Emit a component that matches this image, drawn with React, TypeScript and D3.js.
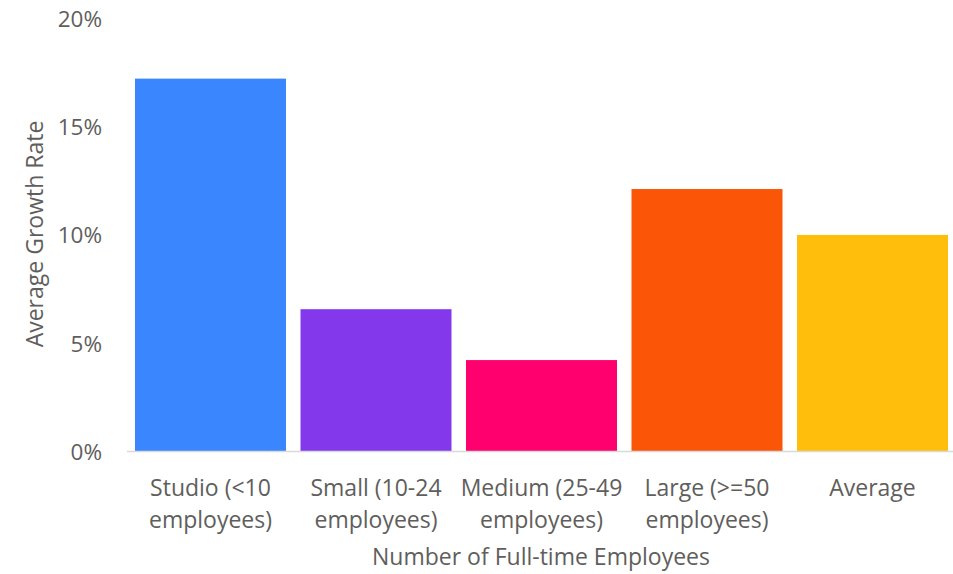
import React from "react";
import * as d3 from "d3";

const categories = [
  ["Studio (<10", "employees)"],
  ["Small (10-24", "employees)"],
  ["Medium (25-49", "employees)"],
  ["Large (>=50", "employees)"],
  ["Average"],
];
const growthRates = [0.172, 0.0655, 0.042, 0.121, 0.0998];
const barColors = ["#3A86FF", "#8338EC", "#FF006E", "#FB5607", "#FFBE0B"];
const yTicks = [0, 0.05, 0.1, 0.15, 0.2];
const xTitle = "Number of Full-time Employees";
const yTitle = "Average Growth Rate";

const W = 953;
const H = 574;
const FONT = "'Segoe UI', 'Open Sans', 'Noto Sans', sans-serif";
const TEXT = "#605E5C";

export default function App() {
  const keys = categories.map((c) => c.join(" "));
  const x = d3
    .scaleBand<string>()
    .domain(keys)
    .range([127.75, 955.25])
    .paddingInner(0.0876)
    .paddingOuter(0.0438);
  const y = d3.scaleLinear().domain([0, 0.2]).range([451, 18]);
  const fmt = d3.format(".0%");

  return (
    <svg
      width={W}
      height={H}
      style={{ position: "absolute", left: 0, top: 0, background: "#fff" }}
      fontFamily={FONT}
    >
      {yTicks.map((t) => (
        <text
          key={t}
          x={102}
          y={y(t) + 1}
          dy="0.35em"
          textAnchor="end"
          fontSize={22.5}
          fill={TEXT}
        >
          {fmt(t)}
        </text>
      ))}
      <text
        transform={`translate(35,${234}) rotate(-90)`}
        textAnchor="middle"
        dy="0.35em"
        fontSize={23}
        fill={TEXT}
      >
        {yTitle}
      </text>
      {keys.map((k, i) => (
        <rect
          key={k}
          x={x(k)}
          y={y(growthRates[i])}
          width={x.bandwidth()}
          height={y(0) - y(growthRates[i])}
          fill={barColors[i]}
        />
      ))}
      <line x1={127} x2={W} y1={y(0) + 0.5} y2={y(0) + 0.5} stroke="#d9d9d9" strokeWidth={1.5} />
      {keys.map((k, i) => (
        <text
          key={k}
          x={(x(k) as number) + x.bandwidth() / 2}
          textAnchor="middle"
          fontSize={23}
          fill={TEXT}
        >
          {categories[i].map((line, j) => (
            <tspan key={j} x={(x(k) as number) + x.bandwidth() / 2} y={488 + j * 32} dy="0.35em">
              {line}
            </tspan>
          ))}
        </text>
      ))}
      <text x={541} y={557} dy="0.35em" textAnchor="middle" fontSize={23} fill={TEXT}>
        {xTitle}
      </text>
    </svg>
  );
}
